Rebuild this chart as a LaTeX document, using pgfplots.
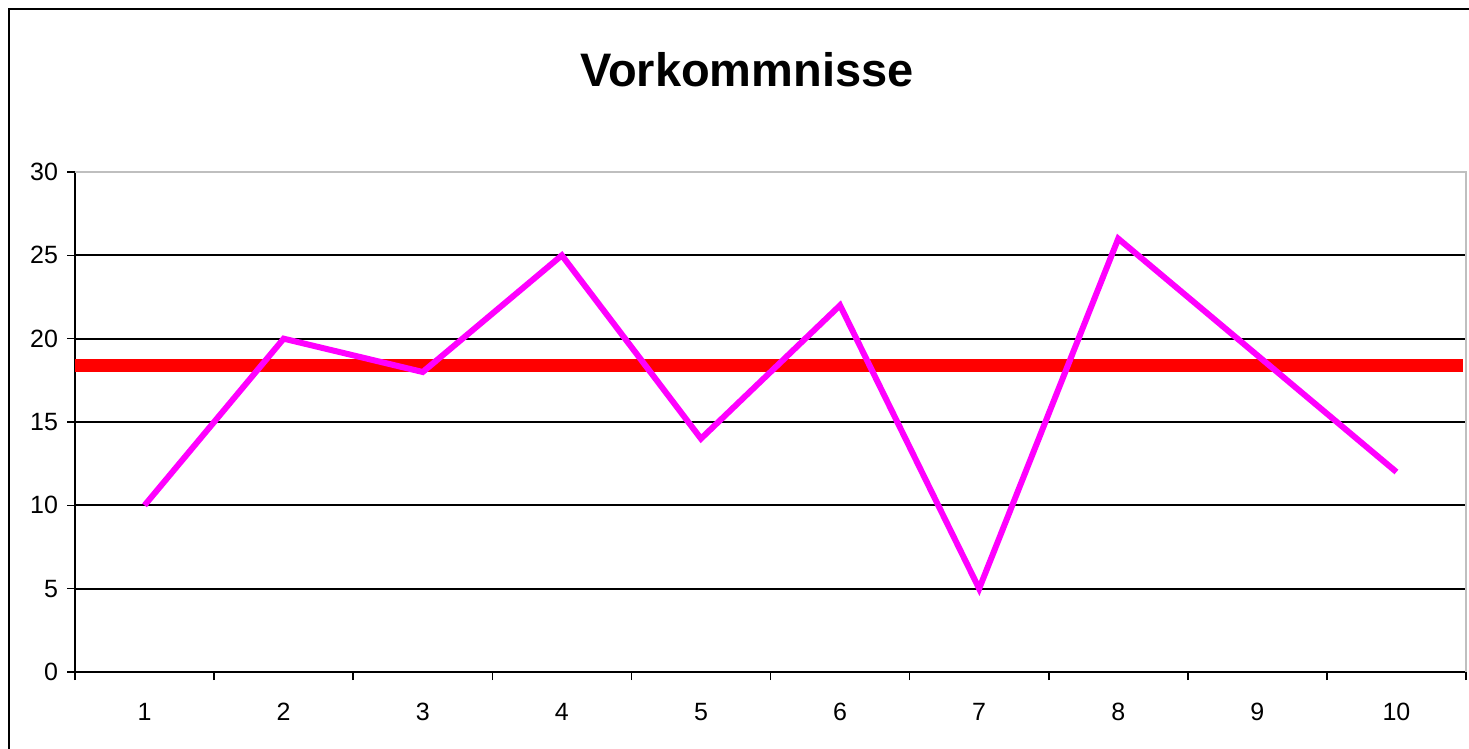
\documentclass[border=0pt]{standalone}
\usepackage{pgfplots}
\pgfplotsset{compat=1.18}
\usepackage{fontspec}
\setmainfont{Liberation Sans}
\definecolor{linemag}{RGB}{255,0,255}
\definecolor{meanred}{RGB}{255,0,0}
\begin{document}
\begin{tikzpicture}[x=1pt,y=1pt]
\useasboundingbox (0,0) rectangle (734.5,-374.5);
\draw[line width=1.2pt] (4.5,-380) -- (4.5,-4.5) -- (740,-4.5);
\node[font=\bfseries\fontsize{23.5}{26}\selectfont] at (373.5,-35) {Vorkommnisse};
\begin{axis}[
  at={(37.5pt,-336pt)}, anchor=south west,
  scale only axis, width=695.5pt, height=250pt,
  xmin=0.5, xmax=10.5, ymin=0, ymax=30,
  ytick={0,5,...,30},
  xtick={1,...,10},
  minor xtick={0.5,1.5,...,10.5},
  axis x line*=bottom, axis y line*=left,
  axis line style={black, line width=1pt},
  tick align=outside,
  major tick length=4pt, minor tick length=4pt,
  major x tick style={draw=none},
  every tick/.style={black, line width=0.8pt},
  minor x tick style={black, line width=0.8pt},
  ymajorgrids, grid style={black, line width=1pt},
  tick label style={font=\fontsize{12.5}{14}\selectfont},
  xticklabel style={yshift=-8pt},
  yticklabel style={xshift=-1pt},
  /pgf/number format/assume math mode=true,
  clip=false,
]
\addplot[meanred, line width=6.5pt] coordinates {(0.5,18.4) (10.48,18.4)};
\addplot[linemag, line width=3pt, line join=miter] coordinates {
  (1,10) (2,20) (3,18) (4,25) (5,14) (6,22) (7,5) (8,26) (9,19) (10,12)};
\draw[black!25, line width=1pt] (rel axis cs:0,1) -- (rel axis cs:1,1) -- (rel axis cs:1,0);
\end{axis}
\end{tikzpicture}
\end{document}
